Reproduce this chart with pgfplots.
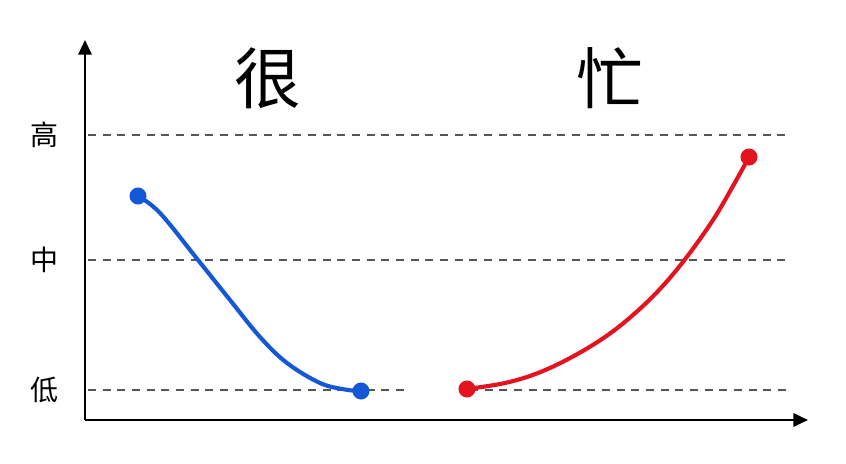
\documentclass[border=0pt]{standalone}
\usepackage{fontspec}
\usepackage{pgfplots}
\pgfplotsset{compat=1.18}
\usetikzlibrary{arrows.meta}
\newfontfamily\cjk{Noto Sans CJK SC}
\definecolor{lineblue}{HTML}{1558D6}
\definecolor{linered}{HTML}{E3141F}
\definecolor{dashgray}{HTML}{555555}

\begin{document}
\begin{tikzpicture}
\begin{axis}[
    x=0.75pt, y=0.75pt,
    xmin=85, xmax=808,
    ymin=44, ymax=422,
    hide axis,
    clip=false,
]
% guide lines for the three levels
\addplot[dashgray, line width=1.1pt, dash pattern=on 6pt off 5pt] coordinates {(88,329) (786,329)};
\addplot[dashgray, line width=1.1pt, dash pattern=on 6pt off 5pt] coordinates {(88,204) (786,204)};
\addplot[dashgray, line width=1.1pt, dash pattern=on 6pt off 5pt] coordinates {(88,74) (407,74)};
\addplot[dashgray, line width=1.1pt, dash pattern=on 6pt off 5pt] coordinates {(470,74) (788,74)};

% 很
\addplot[lineblue, line width=3.1pt, smooth, tension=0.6, mark=*, mark size=4.8pt,
    mark indices={1,9}] coordinates {
    (138,268) (160,251) (198,204) (230,164) (260,127) (287,101) (320,81) (345,74.5) (361,73)
};
% 忙
\addplot[linered, line width=3.1pt, smooth, tension=0.6, mark=*, mark size=4.8pt,
    mark indices={1,11}] coordinates {
    (467,75) (505,81) (538,91) (572,107) (605,127) (633,149) (660,175) (686,206) (713,244) (733,278) (749,307)
};

% axes
\draw[line width=1.7pt, -{Triangle[length=11pt,width=10pt]}] (axis cs:85,44) -- (axis cs:808,44);
\draw[line width=1.7pt, -{Triangle[length=11pt,width=10pt]}] (axis cs:85,44) -- (axis cs:85,424);

\node[font=\cjk\fontsize{21}{21}\selectfont] at (axis cs:45,329) {高};
\node[font=\cjk\fontsize{21}{21}\selectfont] at (axis cs:45,204) {中};
\node[font=\cjk\fontsize{21}{21}\selectfont] at (axis cs:45,74) {低};
\node[font=\cjk\fontsize{50}{50}\selectfont] at (axis cs:268,386) {很};
\node[font=\cjk\fontsize{50}{50}\selectfont] at (axis cs:610,386) {忙};

\path (axis cs:0,0) (axis cs:846,464);
\end{axis}
\end{tikzpicture}
\end{document}
